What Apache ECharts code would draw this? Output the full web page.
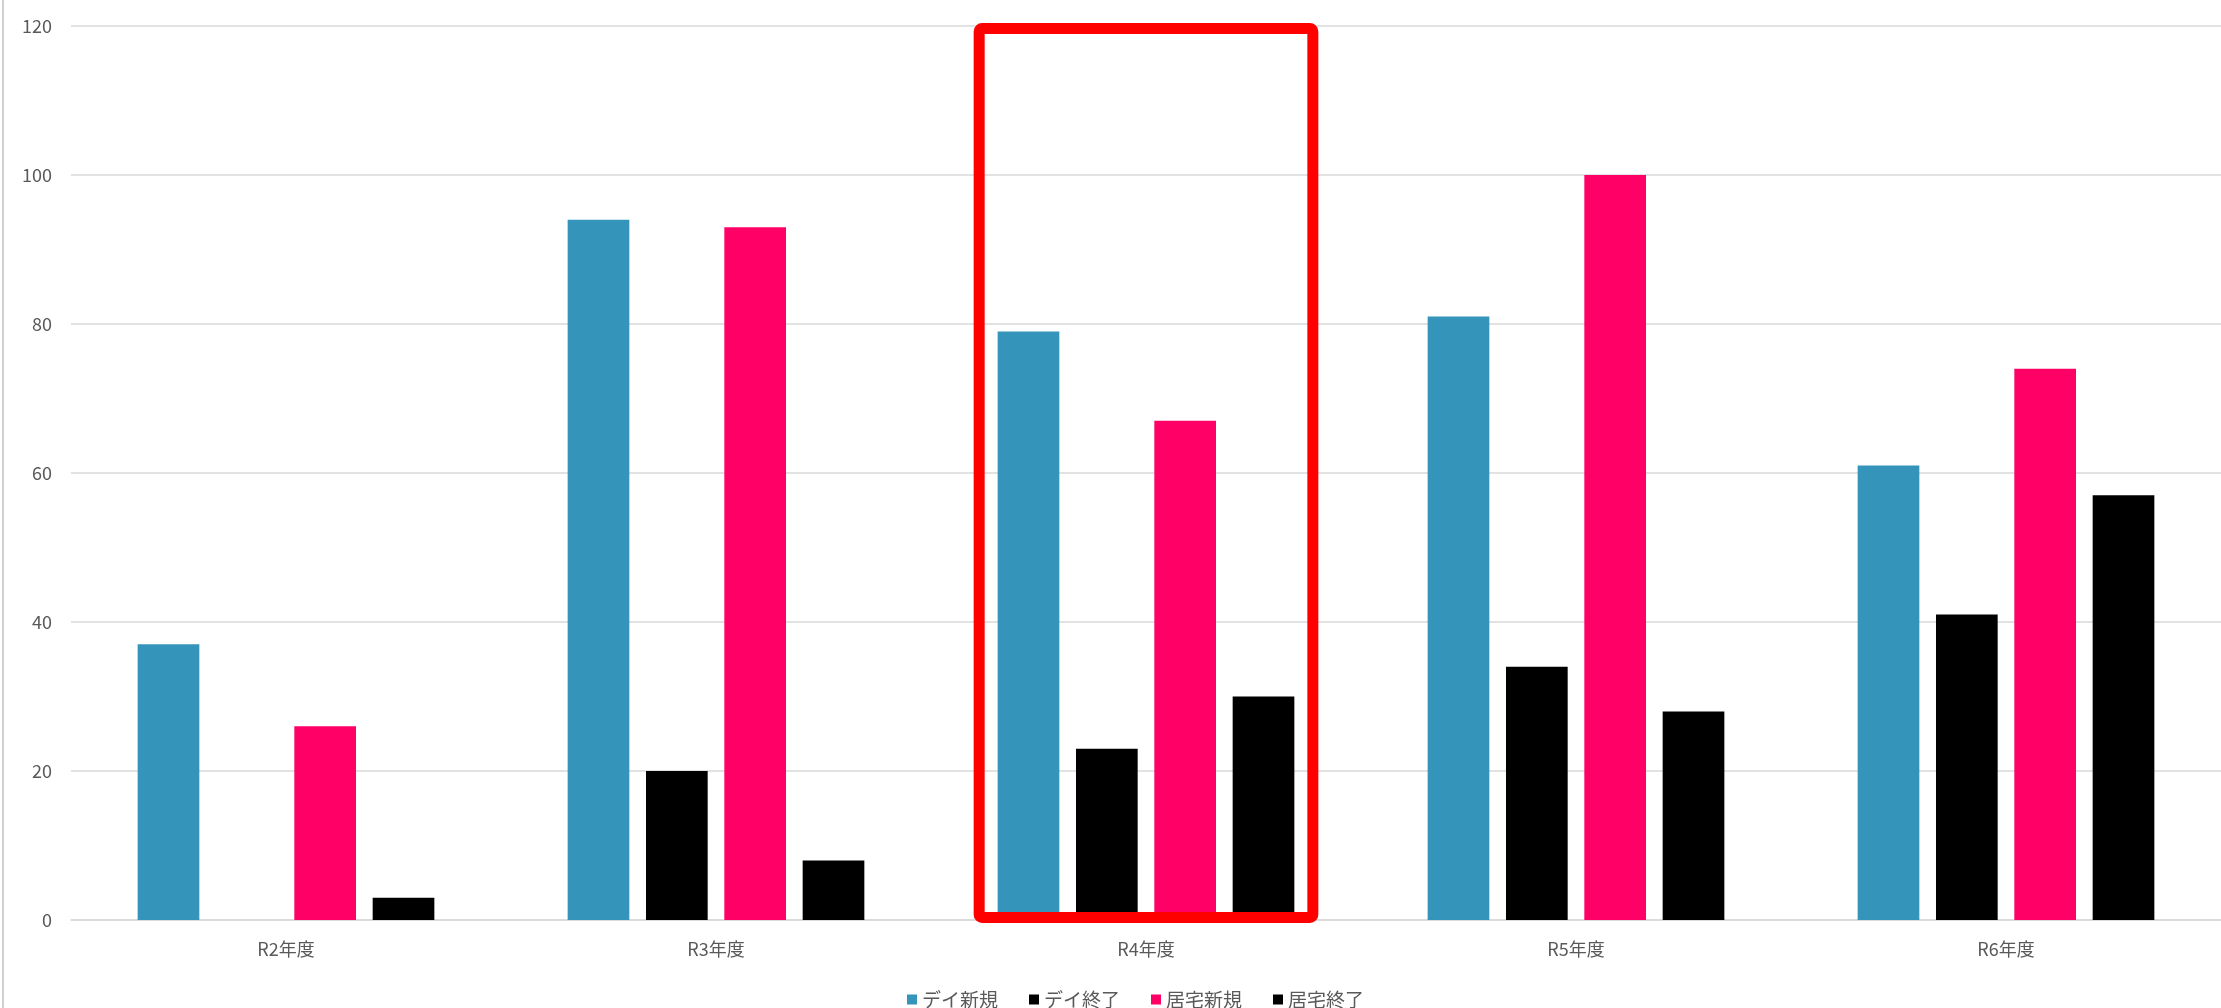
<!DOCTYPE html>
<html>
<head>
<meta charset="utf-8">
<script src="https://cdn.jsdelivr.net/npm/echarts@6/dist/echarts.min.js"></script>
<style>
html,body{margin:0;padding:0;background:#fff;}
#c{width:2221px;height:1008px;}
</style>
</head>
<body>
<div id="c"></div>
<script>
const categories = ['R2年度', 'R3年度', 'R4年度', 'R5年度', 'R6年度'];
const dayNew = [37, 94, 79, 81, 61];
const dayEnd = [0, 20, 23, 34, 41];
const homeNew = [26, 93, 67, 100, 74];
const homeEnd = [3, 8, 30, 28, 57];
const seriesNames = ['デイ新規', 'デイ終了', '居宅新規', '居宅終了'];
const yTicks = [0, 20, 40, 60, 80, 100, 120];
const highlightCategory = 'R4年度';

const FONT = '"Noto Sans CJK JP", "Noto Sans", sans-serif';
const TXT = '#595959';
const colors = ['#3494BA', '#000000', '#FF0066', '#000000'];
const dataSets = [dayNew, dayEnd, homeNew, homeEnd];

const chart = echarts.init(document.getElementById('c'));
const option = {
  animation: false,
  backgroundColor: '#ffffff',
  textStyle: { fontFamily: FONT },
  grid: { left: 71, width: 2158, top: 26, bottom: 88, containLabel: false },
  legend: {
    top: 985,
    left: 902,
    itemWidth: 10,
    itemHeight: 10,
    itemGap: 31,
    icon: 'rect',
    textStyle: { color: TXT, fontSize: 19, fontFamily: FONT },
    data: seriesNames
  },
  xAxis: {
    type: 'category',
    data: categories,
    axisLine: { lineStyle: { color: '#d9d9d9', width: 1.5 } },
    axisTick: { show: false },
    axisLabel: { color: TXT, fontSize: 18, margin: 20, fontFamily: FONT }
  },
  yAxis: {
    type: 'value',
    min: yTicks[0],
    max: yTicks[yTicks.length - 1],
    interval: yTicks[1] - yTicks[0],
    axisLine: { show: false },
    axisTick: { show: false },
    axisLabel: { color: TXT, fontSize: 18, margin: 19, fontFamily: FONT },
    splitLine: { lineStyle: { color: '#d9d9d9', width: 1.5 } }
  },
  series: seriesNames.map((n, i) => ({
    name: n,
    type: 'bar',
    data: dataSets[i],
    barGap: '27%',
    barCategoryGap: '31%',
    itemStyle: { color: colors[i] }
  }))
};
chart.setOption(option);

const cx = chart.convertToPixel({ xAxisIndex: 0 }, highlightCategory);
const cx2 = chart.convertToPixel({ xAxisIndex: 0 }, categories[3]);
const catW = cx2 - cx;
const yTop = chart.convertToPixel({ yAxisIndex: 0 }, yTicks[yTicks.length - 1]);
const yZero = chart.convertToPixel({ yAxisIndex: 0 }, 0);
const rw = catW * 0.776;
chart.setOption({
  graphic: [
    {
      type: 'line',
      shape: { x1: 3, y1: 0, x2: 3, y2: 1008 },
      style: { stroke: '#d0d0d0', lineWidth: 2 },
      z: 10
    },
    {
      type: 'rect',
      shape: { x: cx - rw / 2, y: yTop + 2.5, width: rw, height: (yZero - 2.5) - (yTop + 2.5), r: 3 },
      style: { fill: 'none', stroke: '#ff0000', lineWidth: 11 },
      z: 100
    }
  ]
});
</script>
</body>
</html>
